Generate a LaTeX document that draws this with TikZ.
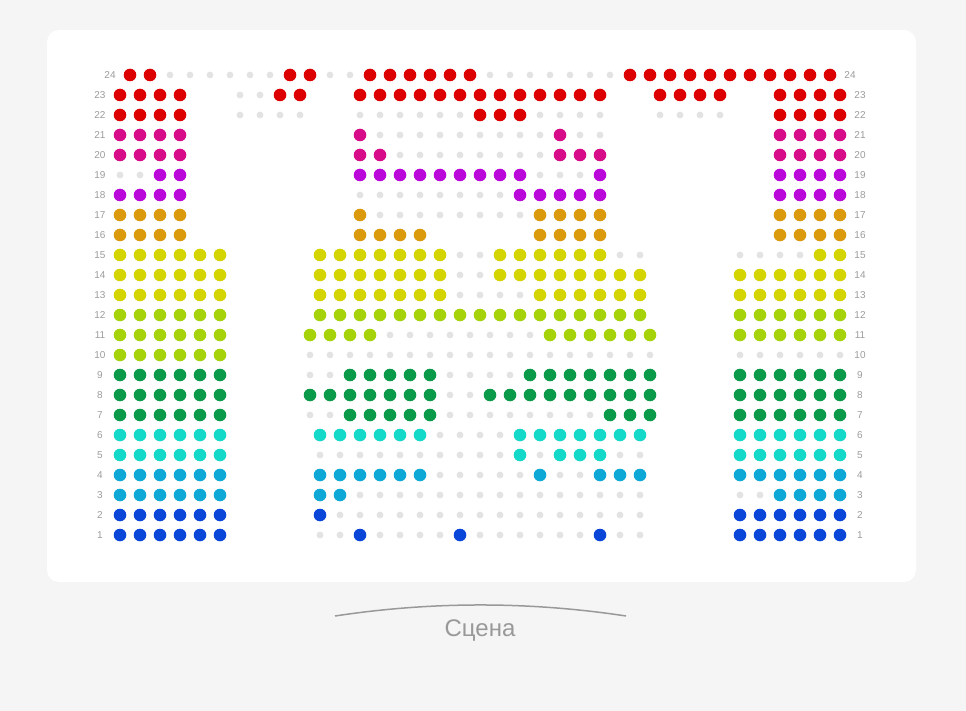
\documentclass[tikz,border=0pt]{standalone}
\usepackage{fontspec}
\setmainfont{Liberation Sans}
\definecolor{pagebg}{HTML}{F5F5F5}
\definecolor{labgrey}{HTML}{9C9C9C}
\definecolor{stagegrey}{HTML}{999999}
\definecolor{seatgrey}{HTML}{E3E3E3}
\definecolor{cred}{HTML}{DD0000}
\definecolor{cmag}{HTML}{D60C88}
\definecolor{cpur}{HTML}{BB08DA}
\definecolor{cora}{HTML}{DB9A0C}
\definecolor{cyel}{HTML}{D4D400}
\definecolor{clim}{HTML}{A6D20A}
\definecolor{cgre}{HTML}{0A9A4A}
\definecolor{ccya}{HTML}{14D8C8}
\definecolor{csky}{HTML}{0EA8D6}
\definecolor{cblu}{HTML}{0A46D8}
\tikzset{
  rowlab/.style={text=labgrey, font=\fontsize{10}{12}\selectfont, inner sep=0pt},
  stagelab/.style={text=stagegrey, font=\fontsize{24}{28}\selectfont, inner sep=0pt},
  stageline/.style={draw=stagegrey, line width=1.5pt},
}
% seat row parser: o = coloured seat, . = free (grey) seat, - = no seat
\newcommand\seatrow[4]{\def\sy{#1}\def\sx{#2}\def\scol{#3}\seatparse#4\relax}
\def\seatparse#1{\ifx#1\relax\else\seatdo#1\expandafter\seatparse\fi}
\def\seatdo#1{%
  \if#1o\fill[\scol] (\sx,\sy) circle (6.3);\fi
  \if#1.\fill[seatgrey] (\sx,\sy) circle (3.4);\fi
  \pgfmathsetmacro\sx{\sx+20}}
\begin{document}
\begin{tikzpicture}[x=1pt,y=-1pt]
\useasboundingbox (0,0) rectangle (966,711);
\fill[pagebg] (0,0) rectangle (966,711);
\fill[white, rounded corners=12] (47,30) rectangle (916,582);
% seats
\seatrow{75}{130}{cred}{oo......oo..oooooo.......ooooooooooo}
\seatrow{95}{120}{cred}{oooo--..oo--ooooooooooooo--oooo--oooo}
\seatrow{115}{120}{cred}{oooo--....--......ooo....--....--oooo}
\seatrow{135}{120}{cmag}{oooo--------o.........o..--------oooo}
\seatrow{155}{120}{cmag}{oooo--------oo........ooo--------oooo}
\seatrow{175}{120}{cpur}{..oo--------ooooooooo...o--------oooo}
\seatrow{195}{120}{cpur}{oooo--------........ooooo--------oooo}
\seatrow{215}{120}{cora}{oooo--------o........oooo--------oooo}
\seatrow{235}{120}{cora}{oooo--------oooo-----oooo--------oooo}
\seatrow{255}{120}{cyel}{oooooo----ooooooo..oooooo..----....oo}
\seatrow{275}{120}{cyel}{oooooo----ooooooo..oooooooo----oooooo}
\seatrow{295}{120}{cyel}{oooooo----ooooooo....oooooo----oooooo}
\seatrow{315}{120}{clim}{oooooo----ooooooooooooooooo----oooooo}
\seatrow{335}{120}{clim}{oooooo}
\seatrow{335}{310}{clim}{oooo........oooooo}
\seatrow{335}{740}{clim}{oooooo}
\seatrow{355}{120}{clim}{oooooo}
\seatrow{355}{310}{clim}{..................}
\seatrow{355}{740}{clim}{......}
\seatrow{375}{120}{cgre}{oooooo}
\seatrow{375}{310}{cgre}{..ooooo....ooooooo}
\seatrow{375}{740}{cgre}{oooooo}
\seatrow{395}{120}{cgre}{oooooo}
\seatrow{395}{310}{cgre}{ooooooo..ooooooooo}
\seatrow{395}{740}{cgre}{oooooo}
\seatrow{415}{120}{cgre}{oooooo}
\seatrow{415}{310}{cgre}{..ooooo........ooo}
\seatrow{415}{740}{cgre}{oooooo}
\seatrow{435}{120}{ccya}{oooooo----oooooo....ooooooo----oooooo}
\seatrow{455}{120}{ccya}{oooooo----..........o.ooo..----oooooo}
\seatrow{475}{120}{csky}{oooooo----oooooo.....o..ooo----oooooo}
\seatrow{495}{120}{csky}{oooooo----oo...............----..oooo}
\seatrow{515}{120}{cblu}{oooooo----o................----oooooo}
\seatrow{535}{120}{cblu}{oooooo----..o....o......o..----oooooo}
% row labels
\foreach \r in {1,...,23}{
  \pgfmathsetmacro\yy{555-20*\r}
  \node[rowlab] (ll\r) at (100,\yy) {\r};
  \node[rowlab] (lr\r) at (860,\yy) {\r};
}
\node[rowlab] (ll24) at (110,75) {24};
\node[rowlab] (lr24) at (850,75) {24};
% stage
\coordinate (stA) at (335,616);
\coordinate (stB) at (626,616);
\draw[stageline] (stA) .. controls (431.7,601.3) and (529.3,601.3) .. (stB);
\node[stagelab] (stage) at (480,631) {Сцена};
\end{tikzpicture}
\end{document}
